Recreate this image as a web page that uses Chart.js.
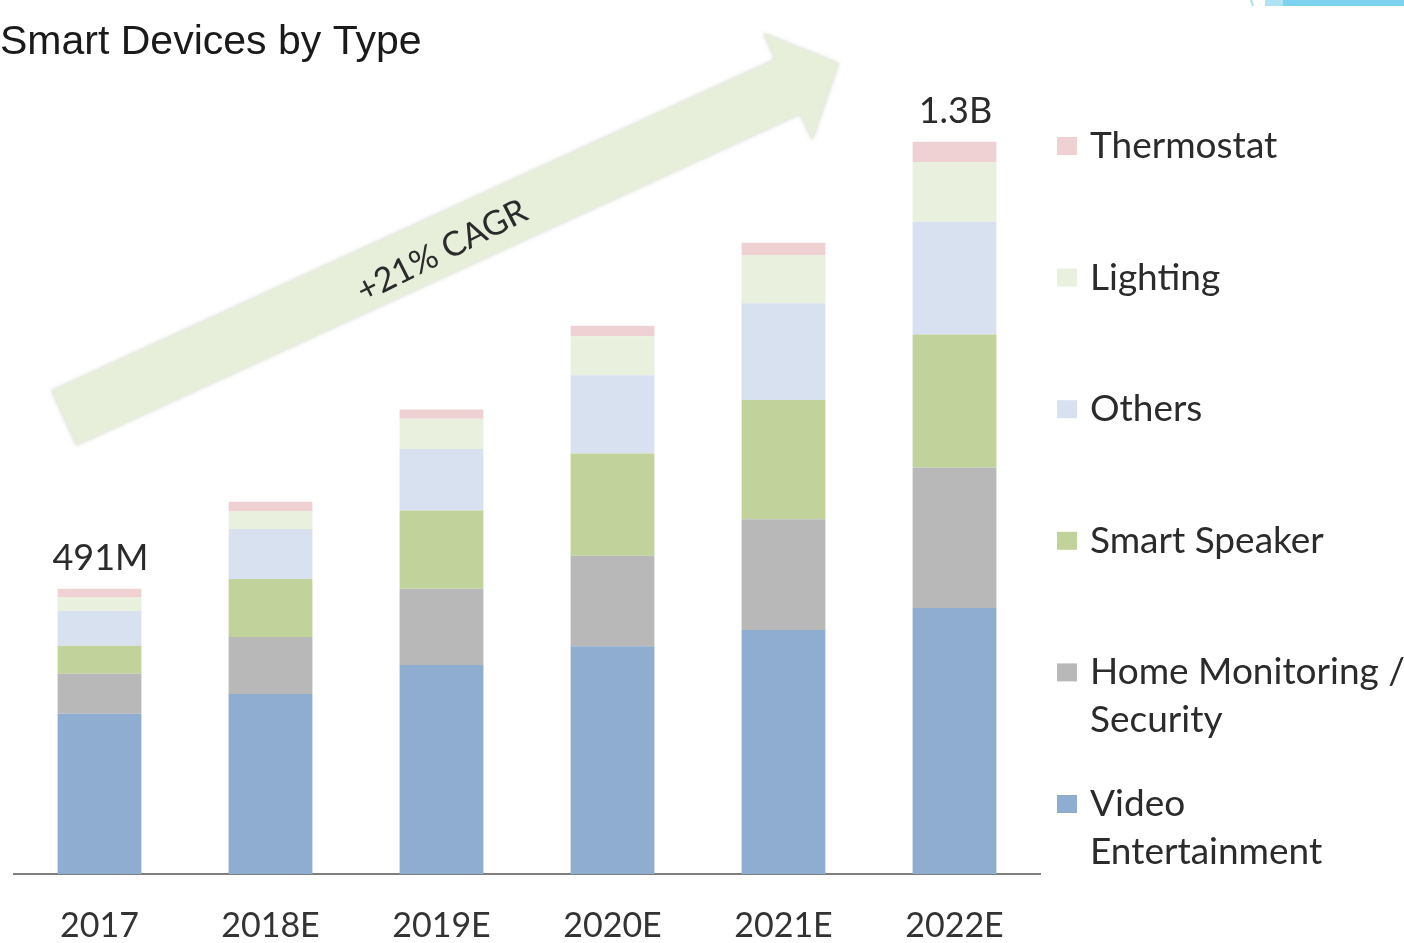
<!DOCTYPE html>
<html>
<head>
<meta charset="utf-8">
<script src="https://cdn.jsdelivr.net/npm/chart.js@4.4.1/dist/chart.umd.min.js"></script>
<style>
  html, body { margin: 0; padding: 0; background: #fff; }
  canvas { display: block; }
</style>
</head>
<body>
<canvas id="devices" width="1404" height="943"></canvas>
<script>
const years = ['2017', '2018E', '2019E', '2020E', '2021E', '2022E'];
const seriesNames = ['Video Entertainment', 'Home Monitoring / Security', 'Smart Speaker', 'Others', 'Lighting', 'Thermostat'];
const seriesColors = ['#8eadd1', '#b8b8b9', '#c2d29b', '#d8e1ef', '#e9f0de', '#efd1d3'];

// units shipped, millions
const videoEntertainment = [276, 310, 360, 392, 420, 458];
const homeMonitoring = [69, 98, 131, 156, 191, 242];
const smartSpeaker = [48, 100, 135, 176, 205, 229];
const others = [60, 86, 106, 135, 167, 194];
const lighting = [24, 31, 52, 67, 83, 103];
const thermostat = [14, 16, 16, 18, 21, 35];

const labelledYears = ['2017', '2022E'];
const chartTitle = 'Smart Devices by Type';
const growthNote = '+21% CAGR';

const INK = '#2b2b2b';
const LABEL_FONT = 'Lato, "Open Sans", sans-serif';

function formatTotal(millions) {
  return millions >= 1000 ? `${(millions / 1000).toFixed(1)}B` : `${millions}M`;
}

function wrapText(ctx, text, maxWidth) {
  const lines = [];
  let line = '';
  text.split(' ').forEach((word) => {
    const next = line ? `${line} ${word}` : word;
    if (line && ctx.measureText(next).width > maxWidth) {
      lines.push(line);
      line = word;
    } else {
      line = next;
    }
  });
  if (line) lines.push(line);
  return lines;
}

function drawGrowthArrow(ctx) {
  const len = 852, shaftHalf = 30, headLen = 56, headHalf = 59;
  ctx.save();
  ctx.translate(64, 418);
  ctx.rotate(-24.6 * Math.PI / 180);
  ctx.beginPath();
  ctx.moveTo(0, -shaftHalf);
  ctx.lineTo(len - headLen, -shaftHalf);
  ctx.lineTo(len - headLen, -headHalf);
  ctx.lineTo(len, 0);
  ctx.lineTo(len - headLen, headHalf);
  ctx.lineTo(len - headLen, shaftHalf);
  ctx.lineTo(0, shaftHalf);
  ctx.closePath();
  ctx.shadowColor = 'rgba(175, 180, 170, 0.55)';
  ctx.shadowBlur = 4;
  ctx.fillStyle = '#e7eeda';
  ctx.fill();
  ctx.restore();

  ctx.save();
  ctx.translate(442, 251);
  ctx.rotate(-27 * Math.PI / 180);
  ctx.font = `34px ${LABEL_FONT}`;
  ctx.fillStyle = INK;
  ctx.textAlign = 'center';
  ctx.textBaseline = 'middle';
  ctx.fillText(growthNote, 0, 0);
  ctx.restore();
}

const decorPlugin = {
  id: 'deviceDecor',
  beforeDraw(chart) {
    const { ctx } = chart;
    ctx.save();
    ctx.fillStyle = '#ffffff';
    ctx.fillRect(0, 0, chart.width, chart.height);

    // strip of the neighbouring slide in the corner
    ctx.fillStyle = '#7dd3ee';
    ctx.fillRect(1265, 0, 139, 6);
    ctx.fillStyle = '#aee3f3';
    ctx.fillRect(1265, 0, 18, 6);
    ctx.strokeStyle = '#a6def1';
    ctx.lineWidth = 2;
    ctx.beginPath();
    ctx.moveTo(1251, 0);
    ctx.lineTo(1253, 6);
    ctx.stroke();

    ctx.font = '41px "Liberation Sans", Arial, sans-serif';
    ctx.fillStyle = '#1a1a1a';
    ctx.textBaseline = 'alphabetic';
    ctx.fillText(chartTitle, 0, 54);
    ctx.restore();

    drawGrowthArrow(ctx);
  },
  afterDatasetsDraw(chart) {
    const { ctx, scales } = chart;
    ctx.save();
    ctx.font = `36px ${LABEL_FONT}`;
    ctx.fillStyle = INK;
    ctx.textAlign = 'center';
    ctx.textBaseline = 'alphabetic';
    labelledYears.forEach((year) => {
      const i = years.indexOf(year);
      const total = chart.data.datasets.reduce((sum, ds) => sum + ds.data[i], 0);
      const x = scales.x.getPixelForValue(i);
      const y = scales.y.getPixelForValue(total);
      ctx.fillText(formatTotal(total), x + 1, y - 19);
    });
    ctx.restore();
  },
  afterDraw(chart) {
    const { ctx } = chart;
    const datasets = chart.data.datasets;
    ctx.save();
    ctx.font = `37px ${LABEL_FONT}`;
    ctx.textBaseline = 'middle';
    ctx.textAlign = 'left';
    datasets.slice().reverse().forEach((ds, row) => {
      const cy = 146 + row * 131.6;
      ctx.fillStyle = ds.backgroundColor;
      ctx.fillRect(1057, cy - 9, 20, 18);
      ctx.fillStyle = INK;
      wrapText(ctx, ds.label, 316).forEach((line, k) => {
        ctx.fillText(line, 1090, cy + k * 48);
      });
    });
    ctx.restore();
  }
};

const seriesValues = [videoEntertainment, homeMonitoring, smartSpeaker, others, lighting, thermostat];

new Chart(document.getElementById('devices'), {
  type: 'bar',
  data: {
    labels: years,
    datasets: seriesNames.map((name, i) => ({
      label: name,
      data: seriesValues[i],
      backgroundColor: seriesColors[i],
      borderWidth: 0,
      categoryPercentage: 1,
      barPercentage: 0.49
    }))
  },
  options: {
    responsive: false,
    devicePixelRatio: 1,
    animation: false,
    layout: { padding: { top: 90, left: 14, right: 364, bottom: -35 } },
    plugins: {
      legend: { display: false },
      tooltip: { enabled: false }
    },
    scales: {
      x: {
        stacked: true,
        grid: { display: false, drawTicks: false },
        border: { display: true, color: '#7f7f7f', width: 2 },
        ticks: {
          color: '#333333',
          padding: 35,
          font: { family: 'Lato', size: 34, lineHeight: 1 }
        }
      },
      y: {
        stacked: true,
        display: false,
        min: 0,
        max: 1350
      }
    }
  },
  plugins: [decorPlugin]
});
</script>
</body>
</html>
